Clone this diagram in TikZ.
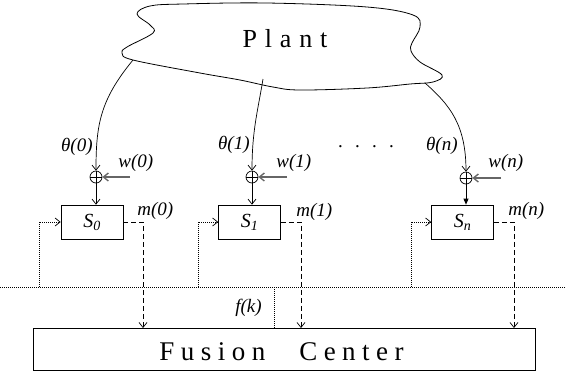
\documentclass[tikz,border=0pt]{standalone}
\usepackage{fontspec}
\setmainfont{Liberation Serif}
\newfontfamily\plantfont[LetterSpace=30]{Liberation Serif}
\newfontfamily\fcfont[LetterSpace=24]{Liberation Serif}
\usetikzlibrary{arrows.meta}
\begin{document}
\begin{tikzpicture}[x=1pt,y=-1pt,line width=0.7pt,
  lbl/.style={font=\fontsize{19}{22}\selectfont\itshape, inner sep=0pt},
  sensor/.style={draw, minimum width=62pt, minimum height=34pt, inner sep=0pt,
    font=\fontsize{20}{24}\selectfont\itshape},
  sum/.style={draw, circle, minimum size=12pt, inner sep=0pt,
    path picture={\draw (path picture bounding box.north) -- (path picture bounding box.south)
      (path picture bounding box.west) -- (path picture bounding box.east);}},
  arr/.style={-{Straight Barb[length=5pt,width=8pt]}},
  farr/.style={-{Triangle[length=6pt,width=5pt]}},
  noise/.style={arr, draw=black!60, line width=1.3pt},
  msg/.style={arr, dash pattern=on 5pt off 3pt},
  fb/.style={arr, dash pattern=on 0.8pt off 1.2pt},
  busline/.style={dash pattern=on 0.8pt off 1.2pt}]
\useasboundingbox (0,0) rectangle (565,376);
% plant cloud
\draw[line width=0.8pt] plot[smooth cycle, tension=0.6] coordinates {
  (137,14) (150,6) (183,4) (267,3) (367,7) (413,15) (420,27) (412,43) (411,51)
  (420,62) (442,75) (433,82) (410,84) (367,88) (300,90) (273,87) (240,80)
  (200,73) (133,60) (122,53) (127,47) (153,33) (150,25)};
\node[font=\fontsize{26}{30}\selectfont\plantfont, inner sep=0pt, anchor=base] (plant) at (285,47) {Plant};
\coordinate (p0) at (133,60);
\coordinate (p1) at (263,79);
\coordinate (pn) at (425,83);
% sum junctions
\node[sum] (c0) at (96,177) {};
\node[sum] (c1) at (252,177) {};
\node[sum] (cn) at (466,178) {};
% sensors
\node[sensor] (s0) at (92,222) {S\textsubscript{0}};
\node[sensor] (s1) at (249.5,222) {S\textsubscript{1}};
\node[sensor] (sn) at (462.5,222) {S\textsubscript{n}};
% fusion center
\node[draw, minimum width=502pt, minimum height=42pt, inner sep=0pt] (fc) at (284,349) {};
\node[font=\fontsize{27}{30}\selectfont\fcfont, inner sep=0pt, anchor=base west] (fctext) at (159,360) {Fusion\hspace{34pt}Center};
% plant outputs
\draw[arr] (p0) .. controls (100,100) and (96,125) .. (c0.north);
\draw[arr] (p1) .. controls (258,110) and (252,130) .. (c1.north);
\draw[arr] (pn) .. controls (450,105) and (466,125) .. (cn.north);
% labels theta
\node[lbl, anchor=east] (th0) at (93,147) {θ(0)};
\node[lbl, anchor=east] (th1) at (250,145) {θ(1)};
\node[lbl, anchor=east] (thn) at (458,146) {θ(n)};
\node[font=\fontsize{19}{22}\selectfont, inner sep=0pt] (dots) at (366,147) {.\hspace{12.3pt}.\hspace{12.3pt}.\hspace{12.3pt}.};
% noise
\coordinate (w0s) at (130,177);
\coordinate (w1s) at (287,177);
\coordinate (wns) at (501,178);
\draw[noise] (w0s) -- (c0.east);
\draw[noise] (w1s) -- (c1.east);
\draw[noise] (wns) -- (cn.east);
\node[lbl, anchor=west] (lw0) at (118,163) {w(0)};
\node[lbl, anchor=west] (lw1) at (276,163) {w(1)};
\node[lbl, anchor=west] (lwn) at (488,163) {w(n)};
% sum to sensor
\draw[arr] (c0.south) -- (c0.south |- s0.north);
\draw[arr] (c1.south) -- (c1.south |- s1.north);
\draw[farr] (cn.south) -- (cn.south |- sn.north);
% bus
\coordinate (busL) at (0,287);
\coordinate (busR) at (565,287);
\draw[busline] (busL) -- (busR);
% feedback
\coordinate (b0) at (39,287);
\coordinate (b1) at (198,287);
\coordinate (bn) at (411,287);
\draw[fb] (b0) |- (s0.west);
\draw[fb] (b1) |- (s1.west);
\draw[fb] (bn) |- (sn.west);
% f(k)
\coordinate (fk) at (274,287);
\draw[busline] (fk) -- (fk |- fc.north);
\node[lbl, anchor=east] (lfk) at (262,308) {f(k)};
% messages
\coordinate (m0) at (143,328);
\coordinate (m1) at (301,328);
\coordinate (mn) at (514,328);
\draw[msg] (s0.east) -| (m0);
\draw[msg] (s1.east) -| (m1);
\draw[msg] (sn.east) -| (mn);
\node[lbl, anchor=west] (lm0) at (137,211) {m(0)};
\node[lbl, anchor=west] (lm1) at (296,212) {m(1)};
\node[lbl, anchor=west] (lmn) at (508,211) {m(n)};
\end{tikzpicture}
\end{document}
